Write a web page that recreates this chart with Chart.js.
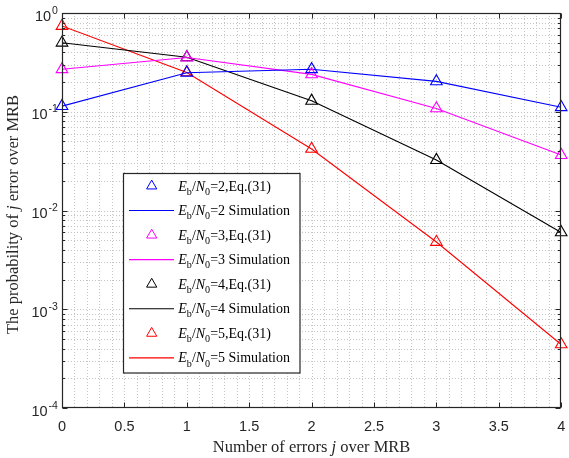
<!DOCTYPE html>
<html><head><meta charset="utf-8">
<script src="https://cdn.jsdelivr.net/npm/chart.js@4"></script>
<style>html,body{margin:0;padding:0;background:#fff;} canvas{display:block;}</style>
</head><body>
<canvas id="c" width="569" height="458"></canvas>
<script>
// ---- data ----
const errorsJ = [0, 1, 2, 3, 4];
const ebn0_2 = [0.114, 0.248, 0.269, 0.203, 0.111];
const ebn0_3 = [0.269, 0.354, 0.239, 0.108, 0.0364];
const ebn0_4 = [0.500, 0.356, 0.129, 0.0324, 0.0060];
const ebn0_5 = [0.738, 0.250, 0.042, 0.0048, 0.00044];
const snrValues = [2, 3, 4, 5];
const seriesValues = [ebn0_2, ebn0_3, ebn0_4, ebn0_5];
const seriesColors = ['#0000ff', '#ff00ff', '#000000', '#ff0000'];
const xTickLabels = ['0', '0.5', '1', '1.5', '2', '2.5', '3', '3.5', '4'];
const yTickExponents = ['0', '-1', '-2', '-3', '-4'];
const xTitleParts = [{t: 'Number of errors '}, {t: 'j', it: true}, {t: ' over MRB'}];
const yTitleParts = [{t: 'The probability of '}, {t: 'j', it: true}, {t: ' error over MRB'}];

const SERIF = '"Liberation Serif", "Times New Roman", Times, serif';
const SANS = '"Liberation Sans", Arial, Helvetica, sans-serif';
const AXIS_COLOR = '#262626';

// tick positions
const xTickValues = [];
for (let k = 0; k <= 40; k++) xTickValues.push(k / 10);
const yTickValues = [];
for (let e = -4; e < 0; e++) for (let m = 1; m <= 9; m++) yTickValues.push(Number((m * Math.pow(10, e)).toPrecision(3)));
yTickValues.push(1);

function eqLabel(snr) { return [{t: 'E', it: true}, {t: 'b', sub: true}, {t: '/'}, {t: 'N', it: true}, {t: '0', sub: true}, {t: '=' + snr + ',Eq.(31)'}]; }
function simLabel(snr) { return [{t: 'E', it: true}, {t: 'b', sub: true}, {t: '/'}, {t: 'N', it: true}, {t: '0', sub: true}, {t: '=' + snr + ' Simulation'}]; }

const datasets = [];
snrValues.forEach((snr, i) => {
  const pts = errorsJ.map((x, k) => ({x: x, y: seriesValues[i][k]}));
  datasets.push({
    label: 'Eb/N0=' + snr + ',Eq.(31)', rich: eqLabel(snr), kind: 'marker',
    data: pts, showLine: false, pointStyle: 'triangle', pointRadius: 6.7, pointHoverRadius: 6.7,
    pointBorderColor: seriesColors[i], pointBackgroundColor: 'rgba(0,0,0,0)', pointBorderWidth: 1.1,
    borderColor: seriesColors[i], clip: false, order: 1
  });
  datasets.push({
    label: 'Eb/N0=' + snr + ' Simulation', rich: simLabel(snr), kind: 'line',
    data: pts, showLine: true, pointRadius: 0, borderWidth: 1.1, borderColor: seriesColors[i],
    backgroundColor: seriesColors[i], fill: false, tension: 0, order: 2
  });
});

function fontFor(p, size) {
  const s = p.sub ? size * 0.72 : size;
  return (p.it ? 'italic ' : '') + s.toFixed(2) + 'px ' + SERIF;
}
function drawRich(ctx, parts, x, y, size, align) {
  let total = 0; const ws = [];
  parts.forEach(p => { ctx.font = fontFor(p, size); const w = ctx.measureText(p.t).width; ws.push(w); total += w; });
  let cx = align === 'center' ? x - total / 2 : x;
  ctx.textAlign = 'left'; ctx.textBaseline = 'alphabetic';
  parts.forEach((p, i) => {
    ctx.font = fontFor(p, size);
    ctx.fillText(p.t, cx, y + (p.sub ? size * 0.3 : 0));
    cx += ws[i];
  });
}

const decorPlugin = {
  id: 'decor',
  beforeDatasetsDraw(chart) {
    const {ctx, chartArea: a, scales: {x, y}} = chart;
    ctx.save();
    ctx.strokeStyle = '#c4c4c4'; ctx.lineWidth = 1; ctx.setLineDash([1, 2]);
    ctx.beginPath();
    x.ticks.forEach(t => {
      const px = Math.round(x.getPixelForValue(t.value)) + 0.5;
      if (px <= a.left + 1 || px >= a.right - 1) return;
      ctx.moveTo(px, a.top); ctx.lineTo(px, a.bottom);
    });
    y.ticks.forEach(t => {
      const py = Math.round(y.getPixelForValue(t.value)) + 0.5;
      if (py <= a.top + 1 || py >= a.bottom - 1) return;
      ctx.moveTo(a.left, py); ctx.lineTo(a.right, py);
    });
    ctx.stroke();
    ctx.restore();
  },
  afterDatasetsDraw(chart) {
    const {ctx, chartArea: a, scales: {x, y}} = chart;
    ctx.save();
    const L = Math.round(a.left) + 0.5, R = Math.round(a.right) - 0.5;
    const T = Math.round(a.top) + 0.5, B = Math.round(a.bottom) - 0.5;
    // ticks
    ctx.strokeStyle = AXIS_COLOR; ctx.lineWidth = 1; ctx.setLineDash([]);
    ctx.beginPath();
    x.ticks.forEach(t => {
      const k = Math.round(t.value * 10);
      if (k % 5 !== 0) return;
      const px = Math.round(x.getPixelForValue(t.value)) + 0.5;
      ctx.moveTo(px, B); ctx.lineTo(px, B - 5);
      ctx.moveTo(px, T); ctx.lineTo(px, T + 5);
    });
    y.ticks.forEach(t => {
      const lg = Math.log10(t.value);
      const major = Math.abs(lg - Math.round(lg)) < 1e-6;
      const len = major ? 5 : 2.5;
      const py = Math.round(y.getPixelForValue(t.value)) + 0.5;
      ctx.moveTo(L, py); ctx.lineTo(L + len, py);
      ctx.moveTo(R, py); ctx.lineTo(R - len, py);
    });
    ctx.stroke();
    // box
    ctx.lineWidth = 1.2;
    ctx.strokeRect(L, T, R - L, B - T);

    // y tick labels (10^n)
    ctx.fillStyle = AXIS_COLOR; ctx.textBaseline = 'alphabetic'; ctx.textAlign = 'left';
    yTickExponents.forEach(ex => {
      const v = Math.pow(10, Number(ex));
      const py = y.getPixelForValue(v);
      ctx.font = '14.5px ' + SANS;
      const w1 = ctx.measureText('10').width;
      ctx.font = '10.5px ' + SANS;
      const w2 = ctx.measureText(ex).width;
      const x0 = 57.5 - w1 - w2 - 0.5;
      ctx.font = '14.5px ' + SANS;
      ctx.fillText('10', x0, py + 7.5);
      ctx.font = '10.5px ' + SANS;
      ctx.fillText(ex, x0 + w1 + 0.8, py + 0.5);
    });

    // axis titles
    ctx.fillStyle = AXIS_COLOR;
    drawRich(ctx, xTitleParts, (a.left + a.right) / 2, 452, 16.5, 'center');
    ctx.save();
    ctx.translate(17.5, (a.top + a.bottom) / 2 + 4);
    ctx.rotate(-Math.PI / 2);
    drawRich(ctx, yTitleParts, 0, 0, 16.5, 'center');
    ctx.restore();

    // legend
    const bx = 123.5, by = 173.5, bw = 176.5, bh = 199.5;
    ctx.fillStyle = '#ffffff';
    ctx.fillRect(bx, by, bw, bh);
    ctx.strokeStyle = AXIS_COLOR; ctx.lineWidth = 1.2;
    ctx.strokeRect(bx, by, bw, bh);
    chart.data.datasets.forEach((ds, i) => {
      const cy = 186 + i * 24.55;
      if (ds.kind === 'marker') {
        ctx.strokeStyle = ds.pointBorderColor; ctx.fillStyle = 'rgba(0,0,0,0)'; ctx.lineWidth = 1;
        Chart.helpers.drawPoint(ctx, {pointStyle: 'triangle', radius: 5.9, borderWidth: 1, rotation: 0}, 151.7, cy);
      } else {
        ctx.strokeStyle = ds.borderColor; ctx.lineWidth = 1.1;
        ctx.beginPath(); ctx.moveTo(129, cy); ctx.lineTo(174, cy); ctx.stroke();
      }
      ctx.fillStyle = '#000000';
      drawRich(ctx, ds.rich, 178.3, cy + 4.5, 14, 'left');
    });
    ctx.restore();
  }
};

new Chart(document.getElementById('c'), {
  type: 'scatter',
  data: {datasets: datasets},
  plugins: [decorPlugin],
  options: {
    responsive: false, animation: false, devicePixelRatio: 1,
    layout: {padding: {left: 0, right: 4, top: 13, bottom: 0}},
    plugins: {legend: {display: false}, tooltip: {enabled: false}},
    events: [],
    scales: {
      x: {
        type: 'linear', min: 0, max: 4,
        grid: {display: false, drawTicks: false},
        border: {display: false},
        afterBuildTicks: s => { s.ticks = xTickValues.map(v => ({value: v})); },
        afterFit: s => { s.height = 50; s.paddingLeft = 0; s.paddingRight = 0; },
        ticks: {
          autoSkip: false, maxRotation: 0, minRotation: 0, padding: 10,
          color: AXIS_COLOR, font: {family: SANS, size: 14.5},
          callback: v => { const k = Math.round(v * 10); return k % 5 === 0 ? xTickLabels[k / 5] : ''; }
        }
      },
      y: {
        type: 'logarithmic', min: 0.0001, max: 1,
        grid: {display: false, drawTicks: false},
        border: {display: false},
        afterBuildTicks: s => { s.ticks = yTickValues.map(v => ({value: v})); },
        afterFit: s => { s.width = 62; },
        ticks: {display: false}
      }
    }
  }
});
</script>
</body></html>
